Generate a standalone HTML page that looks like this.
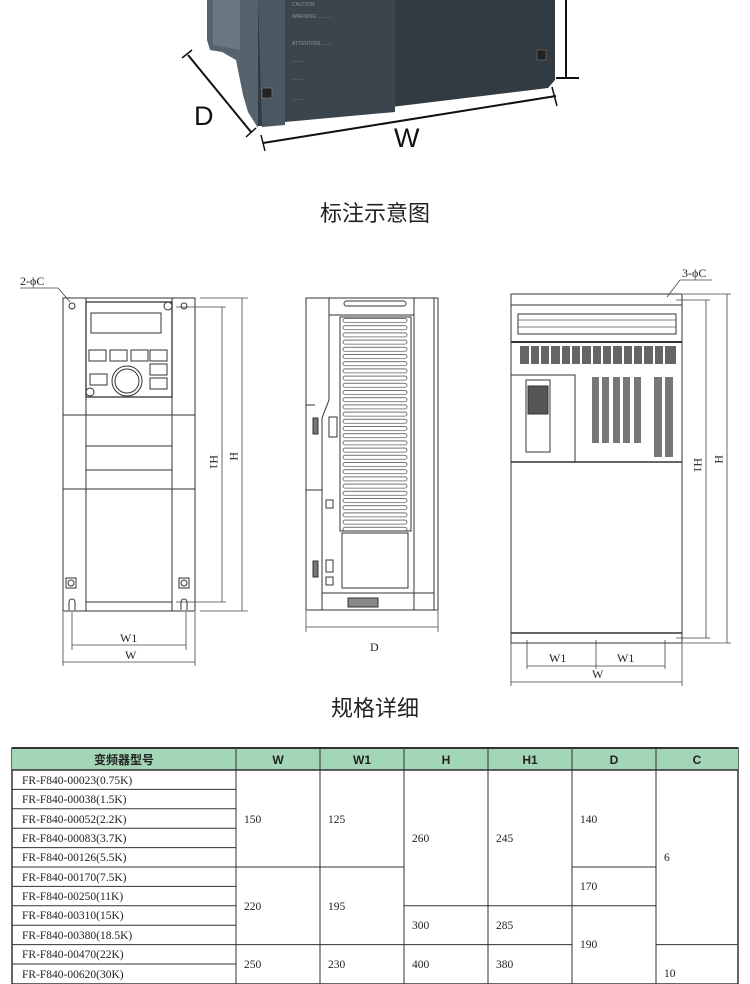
<!DOCTYPE html>
<html><head><meta charset="utf-8"><style>
html,body{margin:0;padding:0;background:#fff;}
svg{display:block}
.t{font-family:"Liberation Serif","Noto Serif CJK SC",serif;font-size:11.5px;fill:#222}
.h{font-family:"Liberation Sans","Noto Sans CJK SC",sans-serif;font-size:12px;fill:#222;font-weight:bold}
.lbl{font-family:"Liberation Serif",serif;font-size:12px;fill:#222}
</style></head><body>
<svg width="750" height="984" viewBox="0 0 750 984" xmlns="http://www.w3.org/2000/svg">
<defs>
<pattern id="slat" x="340" y="317" width="71" height="7.2" patternUnits="userSpaceOnUse">
<rect x="3" y="1.5" width="64" height="4" rx="2" fill="none" stroke="#555" stroke-width="0.8"/>
</pattern>
</defs>

<!-- top photo -->
<polygon points="207,0 258,0 258,128 248,112 243,95 236,60 222,52 210,50 207,40" fill="#56626c"/>
<polygon points="213,0 240,0 240,50 213,45" fill="#6b7884"/>
<polygon points="258,0 555,0 555,80 548,88 300,118 265,126 258,126" fill="#323a42"/>
<polygon points="285,0 395,0 395,112 285,122" fill="#3c454e"/>
<polygon points="258,0 285,0 285,125 262,127" fill="#4b5761"/>
<rect x="262" y="88" width="10" height="10" fill="#222" stroke="#777" stroke-width="0.8"/>
<rect x="537" y="50" width="9" height="10" fill="#222" stroke="#666" stroke-width="0.8"/>
<g fill="#8a939a" font-family="Liberation Sans" font-size="5">
<text x="292" y="6">CAUTION</text><text x="292" y="18">WARNING ..........</text>
<text x="292" y="45">ATTENTION ........</text><text x="292" y="62">..........</text><text x="292" y="80">..........</text><text x="292" y="100">..........</text>
</g>
<line x1="566" y1="0" x2="566" y2="77" stroke="#111" stroke-width="2"/>
<line x1="556" y1="78" x2="579" y2="78" stroke="#111" stroke-width="2"/>
<line x1="188" y1="55" x2="251" y2="132" stroke="#111" stroke-width="2"/>
<line x1="182" y1="58" x2="192" y2="50" stroke="#111" stroke-width="1.5"/>
<line x1="246" y1="137" x2="256" y2="128" stroke="#111" stroke-width="1.5"/>
<line x1="263" y1="143" x2="556" y2="96" stroke="#111" stroke-width="2"/>
<line x1="261" y1="135" x2="265" y2="151" stroke="#111" stroke-width="1.5"/>
<line x1="552" y1="87" x2="557" y2="106" stroke="#111" stroke-width="1.5"/>
<text x="194" y="125" font-family="Liberation Sans" font-size="27" fill="#111">D</text>
<text x="394" y="147" font-family="Liberation Sans" font-size="27" fill="#111">W</text>

<text x="375" y="221" text-anchor="middle" font-family="Liberation Sans,Noto Sans CJK SC,sans-serif" font-size="22" fill="#222">标注示意图</text>
<text x="375" y="716" text-anchor="middle" font-family="Liberation Sans,Noto Sans CJK SC,sans-serif" font-size="22" fill="#222">规格详细</text>

<!-- left drawing -->
<g fill="none" stroke="#333" stroke-width="1">
<rect x="63" y="298" width="132" height="313"/>
<line x1="86" y1="298" x2="86" y2="611"/><line x1="172" y1="298" x2="172" y2="611"/>
<rect x="86" y="302" width="86" height="95" stroke-width="1.3"/>
<rect x="91" y="313" width="70" height="20"/>
<rect x="89" y="350" width="17" height="11"/><rect x="110" y="350" width="17" height="11"/><rect x="131" y="350" width="17" height="11"/>
<rect x="150" y="350" width="17" height="11"/><rect x="150" y="364" width="17" height="11"/><rect x="150" y="378" width="17" height="11"/>
<rect x="90" y="374" width="17" height="11"/>
<circle cx="127" cy="381" r="15"/><circle cx="127" cy="381" r="12"/>
<circle cx="168" cy="306" r="4"/><circle cx="90" cy="392" r="4"/>
<line x1="63" y1="415" x2="195" y2="415"/><line x1="86" y1="446" x2="172" y2="446"/><line x1="86" y1="470" x2="172" y2="470"/>
<line x1="63" y1="489" x2="195" y2="489"/><line x1="86" y1="602" x2="172" y2="602"/>
<rect x="66" y="578" width="10" height="10"/><rect x="179" y="578" width="10" height="10"/>
<circle cx="71" cy="583" r="3"/><circle cx="184" cy="583" r="3"/>
<circle cx="72" cy="306" r="3"/><circle cx="184" cy="306" r="3"/>
<path d="M69 610 v-8 a3 3 0 0 1 6 0 v8 M181 610 v-8 a3 3 0 0 1 6 0 v8"/>
</g>
<g fill="none" stroke="#444" stroke-width="0.8">
<line x1="200" y1="298" x2="248" y2="298"/><line x1="200" y1="611" x2="248" y2="611"/>
<line x1="176" y1="307" x2="226" y2="307"/><line x1="176" y1="602" x2="226" y2="602"/>
<line x1="222" y1="307" x2="222" y2="602"/><line x1="242" y1="298" x2="242" y2="611"/>
<line x1="72" y1="612" x2="72" y2="650"/><line x1="186" y1="612" x2="186" y2="650"/>
<line x1="63" y1="612" x2="63" y2="666"/><line x1="195" y1="612" x2="195" y2="666"/>
<line x1="72" y1="645" x2="186" y2="645"/><line x1="63" y1="662" x2="195" y2="662"/>
<line x1="20" y1="288" x2="58" y2="288"/><line x1="58" y1="288" x2="70" y2="302"/>
</g>
<text x="20" y="285" class="lbl" font-size="13">2-ϕC</text>
<text x="120" y="642" class="lbl">W1</text><text x="125" y="659" class="lbl">W</text>
<text class="lbl" transform="translate(210,455) rotate(90)">H1</text>
<text class="lbl" transform="translate(230,452) rotate(90)">H</text>

<!-- middle drawing -->
<g fill="none" stroke="#333" stroke-width="1">
<rect x="306" y="298" width="132" height="312"/>
<line x1="329" y1="298" x2="329" y2="400"/><path d="M329 400 L322 418 L322 610"/>
<line x1="306" y1="405" x2="315" y2="405"/><line x1="306" y1="490" x2="322" y2="490"/>
<line x1="414" y1="298" x2="414" y2="610"/><line x1="434" y1="298" x2="434" y2="610"/>
<line x1="329" y1="315" x2="414" y2="315"/>
<rect x="344" y="301" width="62" height="5" rx="2.5"/>
<rect x="340" y="317" width="71" height="214" fill="url(#slat)"/>
<rect x="342" y="533" width="66" height="55"/>
<line x1="322" y1="593" x2="434" y2="593"/>
<rect x="329" y="417" width="8" height="20"/><rect x="326" y="500" width="7" height="8"/>
<rect x="326" y="560" width="7" height="12"/><rect x="326" y="577" width="7" height="8"/>
<rect x="313" y="418" width="5" height="16" fill="#777"/><rect x="313" y="561" width="5" height="16" fill="#777"/>
<rect x="348" y="598" width="30" height="9" fill="#888"/>
</g>
<g stroke="#444" stroke-width="0.8"><line x1="306" y1="611" x2="306" y2="632"/><line x1="438" y1="611" x2="438" y2="632"/><line x1="306" y1="627" x2="438" y2="627"/></g>
<text x="370" y="651" class="lbl">D</text>

<!-- right drawing -->
<g fill="none" stroke="#333" stroke-width="1">
<rect x="511" y="294" width="171" height="349"/>
<line x1="511" y1="305" x2="682" y2="305"/><line x1="511" y1="342" x2="682" y2="342" stroke-width="2"/>
<line x1="511" y1="462" x2="682" y2="462" stroke-width="1.5"/><line x1="511" y1="633" x2="682" y2="633" stroke-width="1.5"/>
<rect x="518" y="314" width="158" height="20" fill="#fff"/>
<rect x="511" y="375" width="64" height="87"/>
<rect x="526" y="380" width="24" height="72"/>
<rect x="528" y="386" width="20" height="28" fill="#555"/>
</g>
<rect x="520" y="346" width="156" height="18" fill="#666"/>
<g stroke="#fff" stroke-width="2"><line x1="530" y1="346" x2="530" y2="364"/><line x1="540" y1="346" x2="540" y2="364"/><line x1="550" y1="346" x2="550" y2="364"/><line x1="561" y1="346" x2="561" y2="364"/><line x1="571" y1="346" x2="571" y2="364"/><line x1="581" y1="346" x2="581" y2="364"/><line x1="592" y1="346" x2="592" y2="364"/><line x1="602" y1="346" x2="602" y2="364"/><line x1="612" y1="346" x2="612" y2="364"/><line x1="623" y1="346" x2="623" y2="364"/><line x1="633" y1="346" x2="633" y2="364"/><line x1="643" y1="346" x2="643" y2="364"/><line x1="654" y1="346" x2="654" y2="364"/><line x1="664" y1="346" x2="664" y2="364"/></g>
<g fill="#777"><rect x="592" y="377" width="7" height="66"/><rect x="602" y="377" width="7" height="66"/><rect x="613" y="377" width="7" height="66"/><rect x="623" y="377" width="7" height="66"/><rect x="634" y="377" width="7" height="66"/><rect x="654" y="377" width="8" height="80"/><rect x="665" y="377" width="8" height="80"/></g>
<g stroke="#555" stroke-width="0.8" fill="none"><line x1="518" y1="320" x2="676" y2="320"/><line x1="518" y1="327" x2="676" y2="327"/></g>
<g stroke="#444" stroke-width="0.8" fill="none">
<line x1="683" y1="294" x2="731" y2="294"/><line x1="683" y1="643" x2="731" y2="643"/>
<line x1="676" y1="300" x2="710" y2="300"/><line x1="676" y1="638" x2="710" y2="638"/>
<line x1="706" y1="300" x2="706" y2="638"/><line x1="727" y1="294" x2="727" y2="643"/>
<line x1="527" y1="640" x2="527" y2="669"/><line x1="596" y1="640" x2="596" y2="669"/><line x1="665" y1="640" x2="665" y2="669"/>
<line x1="527" y1="666" x2="665" y2="666"/>
<line x1="511" y1="643" x2="511" y2="686"/><line x1="682" y1="643" x2="682" y2="686"/>
<line x1="511" y1="682" x2="682" y2="682"/>
<line x1="680" y1="280" x2="712" y2="280"/><line x1="680" y1="280" x2="667" y2="297"/>
</g>
<text x="682" y="277" class="lbl" font-size="13">3-ϕC</text>
<text x="549" y="662" class="lbl">W1</text><text x="617" y="662" class="lbl">W1</text><text x="592" y="678" class="lbl">W</text>
<text class="lbl" transform="translate(694,458) rotate(90)">H1</text>
<text class="lbl" transform="translate(715,455) rotate(90)">H</text>

<!-- table -->
<rect x="12" y="748" width="726" height="236" fill="#fff" stroke="#333" stroke-width="1.5"/>
<rect x="12" y="748" width="726" height="22" fill="#a3d5b7"/>
<g stroke="#333" stroke-width="1" fill="none">
<line x1="12" y1="748" x2="738" y2="748" stroke-width="2"/>
<line x1="12" y1="770" x2="738" y2="770" stroke-width="1.5"/>
<line x1="236" y1="748" x2="236" y2="984"/><line x1="320" y1="748" x2="320" y2="984"/>
<line x1="404" y1="748" x2="404" y2="984"/><line x1="488" y1="748" x2="488" y2="984"/>
<line x1="572" y1="748" x2="572" y2="984"/><line x1="656" y1="748" x2="656" y2="984"/>
<line x1="12" y1="789.4" x2="236" y2="789.4"/><line x1="12" y1="808.8" x2="236" y2="808.8"/>
<line x1="12" y1="828.2" x2="236" y2="828.2"/><line x1="12" y1="847.6" x2="236" y2="847.6"/>
<line x1="12" y1="867" x2="404" y2="867"/><line x1="572" y1="867" x2="656" y2="867"/>
<line x1="12" y1="886.4" x2="236" y2="886.4"/>
<line x1="12" y1="905.8" x2="236" y2="905.8"/><line x1="404" y1="905.8" x2="656" y2="905.8"/>
<line x1="12" y1="925.2" x2="236" y2="925.2"/>
<line x1="12" y1="944.6" x2="572" y2="944.6"/><line x1="656" y1="944.6" x2="738" y2="944.6"/>
<line x1="12" y1="964" x2="236" y2="964"/>
</g>
<g class="h" text-anchor="middle">
<text x="124" y="764">变频器型号</text><text x="278" y="764">W</text><text x="362" y="764">W1</text>
<text x="446" y="764">H</text><text x="530" y="764">H1</text><text x="614" y="764">D</text><text x="697" y="764">C</text>
</g>
<g class="t">
<text x="22" y="784">FR-F840-00023(0.75K)</text>
<text x="22" y="803">FR-F840-00038(1.5K)</text>
<text x="22" y="823">FR-F840-00052(2.2K)</text>
<text x="22" y="842">FR-F840-00083(3.7K)</text>
<text x="22" y="861">FR-F840-00126(5.5K)</text>
<text x="22" y="881">FR-F840-00170(7.5K)</text>
<text x="22" y="900">FR-F840-00250(11K)</text>
<text x="22" y="919">FR-F840-00310(15K)</text>
<text x="22" y="939">FR-F840-00380(18.5K)</text>
<text x="22" y="958">FR-F840-00470(22K)</text>
<text x="22" y="978">FR-F840-00620(30K)</text>
<text x="244" y="823">150</text><text x="328" y="823">125</text>
<text x="244" y="910">220</text><text x="328" y="910">195</text>
<text x="244" y="968">250</text><text x="328" y="968">230</text>
<text x="412" y="842">260</text><text x="496" y="842">245</text>
<text x="412" y="929">300</text><text x="496" y="929">285</text>
<text x="412" y="968">400</text><text x="496" y="968">380</text>
<text x="580" y="823">140</text><text x="580" y="890">170</text><text x="580" y="948">190</text>
<text x="664" y="861">6</text><text x="664" y="977">10</text>
</g>
</svg>
</body></html>
